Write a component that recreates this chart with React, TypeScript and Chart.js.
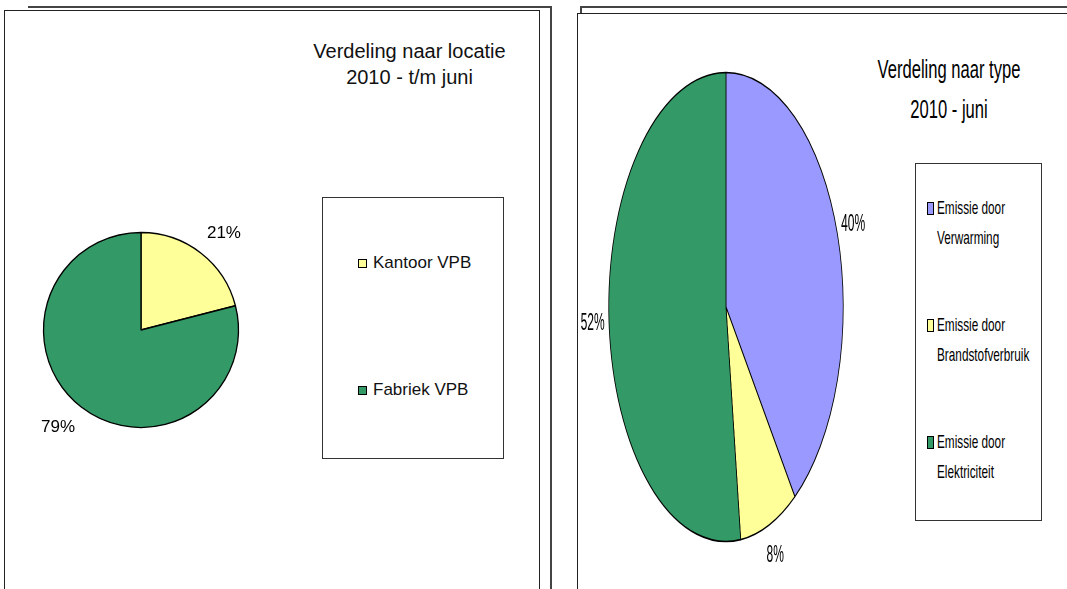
import React, { useEffect, useRef } from "react";
import { Chart, registerables } from "chart.js";

Chart.register(...registerables);

// ---- data ----
const locationTitle = ["Verdeling naar locatie", "2010 - t/m juni"];
const locationLabels = ["Kantoor VPB", "Fabriek VPB"];
const locationValues = [21, 79];
const locationColors = ["#FFFF99", "#339966"];

const typeTitle = ["Verdeling naar type", "2010 - juni"];
const typeLabels = [
  ["Emissie door", "Verwarming"],
  ["Emissie door", "Brandstofverbruik"],
  ["Emissie door", "Elektriciteit"],
];
const typeValues = [40, 8, 52];
const typeColors = ["#9999FF", "#FFFF99", "#339966"];

const FONT = "'Liberation Sans', Arial, sans-serif";

function pctPlugin(id: string, font: string, factor: number, angleShift: number) {
  return {
    id,
    afterDatasetsDraw(chart: any) {
      const ctx = chart.ctx;
      const meta = chart.getDatasetMeta(0);
      const data = chart.data.datasets[0].data as number[];
      const total = data.reduce((a: number, b: number) => a + b, 0);
      ctx.save();
      ctx.font = font;
      ctx.fillStyle = "#000";
      ctx.textAlign = "center";
      ctx.textBaseline = "middle";
      meta.data.forEach((arc: any, i: number) => {
        const p = arc.getProps(["x", "y", "startAngle", "endAngle", "outerRadius"], true);
        const mid = (p.startAngle + p.endAngle) / 2 + angleShift;
        const r = p.outerRadius * factor;
        ctx.fillText(
          Math.round((data[i] / total) * 100) + "%",
          p.x + Math.cos(mid) * r,
          p.y + Math.sin(mid) * r
        );
      });
      ctx.restore();
    },
  };
}

type PieProps = {
  id: string;
  labels: string[];
  values: number[];
  colors: string[];
  radius: number;
  w: number;
  h: number;
  styleW: number;
  styleH: number;
  left: number;
  top: number;
  font: string;
  factor: number;
  angleShift: number;
  borderWidth: number;
};

function PieCanvas(props: PieProps) {
  const ref = useRef<HTMLCanvasElement>(null);
  useEffect(() => {
    const chart = new Chart(ref.current!, {
      type: "pie",
      data: {
        labels: props.labels,
        datasets: [
          {
            data: props.values,
            backgroundColor: props.colors,
            borderColor: "#000",
            borderWidth: props.borderWidth,
            radius: props.radius,
          } as any,
        ],
      },
      options: {
        responsive: false,
        animation: false,
        layout: { padding: 0 },
        plugins: {
          legend: { display: false },
          tooltip: { enabled: false },
          title: { display: false },
        },
      } as any,
      plugins: [pctPlugin(props.id, props.font, props.factor, props.angleShift)],
    });
    return () => chart.destroy();
  }, []);
  return (
    <canvas
      ref={ref}
      width={props.w}
      height={props.h}
      style={{
        position: "absolute",
        left: props.left,
        top: props.top,
        width: props.styleW,
        height: props.styleH,
      }}
    />
  );
}

const abs = (s: React.CSSProperties): React.CSSProperties => ({ position: "absolute", ...s });

export default function App() {
  return (
    <div
      style={abs({
        left: 0,
        top: 0,
        width: 1067,
        height: 589,
        overflow: "hidden",
        background: "#fff",
        fontFamily: FONT,
        color: "#000",
      })}
    >
      {/* left panel frames */}
      <div style={abs({ left: 28, top: 6, width: 524, height: 700, borderTop: "2px solid #444", borderRight: "2px solid #444", boxSizing: "border-box" })} />
      <div style={abs({ left: 4, top: 10, width: 536, height: 700, border: "1.5px solid #222", background: "#fff", boxSizing: "border-box" })} />
      {/* right panel frames */}
      <div style={abs({ left: 580, top: 6, width: 600, height: 700, borderTop: "2px solid #444", borderLeft: "2px solid #444", boxSizing: "border-box" })} />
      <div style={abs({ left: 577, top: 13, width: 600, height: 700, border: "1.5px solid #222", background: "#fff", boxSizing: "border-box" })} />

      {/* left title */}
      <div style={abs({ left: 259.5, top: 38, width: 300, textAlign: "center", fontSize: 20, lineHeight: "26px", color: "#111" })}>
        {locationTitle.map((t, i) => (
          <div key={i}>{t}</div>
        ))}
      </div>

      {/* left legend */}
      <div style={abs({ left: 322, top: 197, width: 182, height: 262, border: "1px solid #333", boxSizing: "border-box" })} />
      {locationLabels.map((l, i) => (
        <div key={l} style={abs({ left: 358, top: 263 + i * 127 - 11, height: 22, display: "flex", alignItems: "center", fontSize: 17, whiteSpace: "nowrap", color: "#111" })}>
          <span style={{ display: "inline-block", width: 9, height: 9, boxSizing: "border-box", border: "1px solid #000", background: locationColors[i], marginRight: 6 }} />
          <span>{l}</span>
        </div>
      ))}

      {/* left pie */}
      <PieCanvas
        id="pctLeft"
        labels={locationLabels}
        values={locationValues}
        colors={locationColors}
        radius={97.5}
        w={300}
        h={300}
        styleW={300}
        styleH={300}
        left={-9.5}
        top={179.5}
        font={"17px " + FONT}
        factor={1.31}
        angleShift={0.047}
        borderWidth={1.3}
      />

      {/* right title */}
      <div style={abs({ left: 799, top: 49, width: 300, textAlign: "center", fontSize: 25.5, lineHeight: "40px", transform: "scaleX(0.65)", transformOrigin: "150px 0" })}>
        {typeTitle.map((t, i) => (
          <div key={i}>{t}</div>
        ))}
      </div>

      {/* right legend */}
      <div style={abs({ left: 915, top: 163, width: 127, height: 358, border: "1px solid #333", boxSizing: "border-box" })} />
      {typeLabels.map((lines, i) => (
        <React.Fragment key={i}>
          <span style={abs({ left: 927, top: 208 + i * 117 - 6.5, width: 7, height: 13, boxSizing: "border-box", border: "1px solid #000", background: typeColors[i] })} />
          {lines.map((t, j) => (
            <div key={j} style={abs({ left: 937, top: 208 + i * 117 + j * 30 - 15, height: 30, lineHeight: "30px", fontSize: 19, whiteSpace: "nowrap", transform: "scaleX(0.62)", transformOrigin: "0 0" })}>
              {t}
            </div>
          ))}
        </React.Fragment>
      ))}

      {/* right pie (elliptical: horizontally squashed canvas) */}
      <PieCanvas
        id="pctRight"
        labels={typeLabels.map((l) => l.join(" "))}
        values={typeValues}
        colors={typeColors}
        radius={234.5}
        w={600}
        h={600}
        styleW={300}
        styleH={600}
        left={575.5}
        top={6.5}
        font={"24px " + FONT}
        factor={1.14}
        angleShift={0}
        borderWidth={1.6}
      />
    </div>
  );
}
